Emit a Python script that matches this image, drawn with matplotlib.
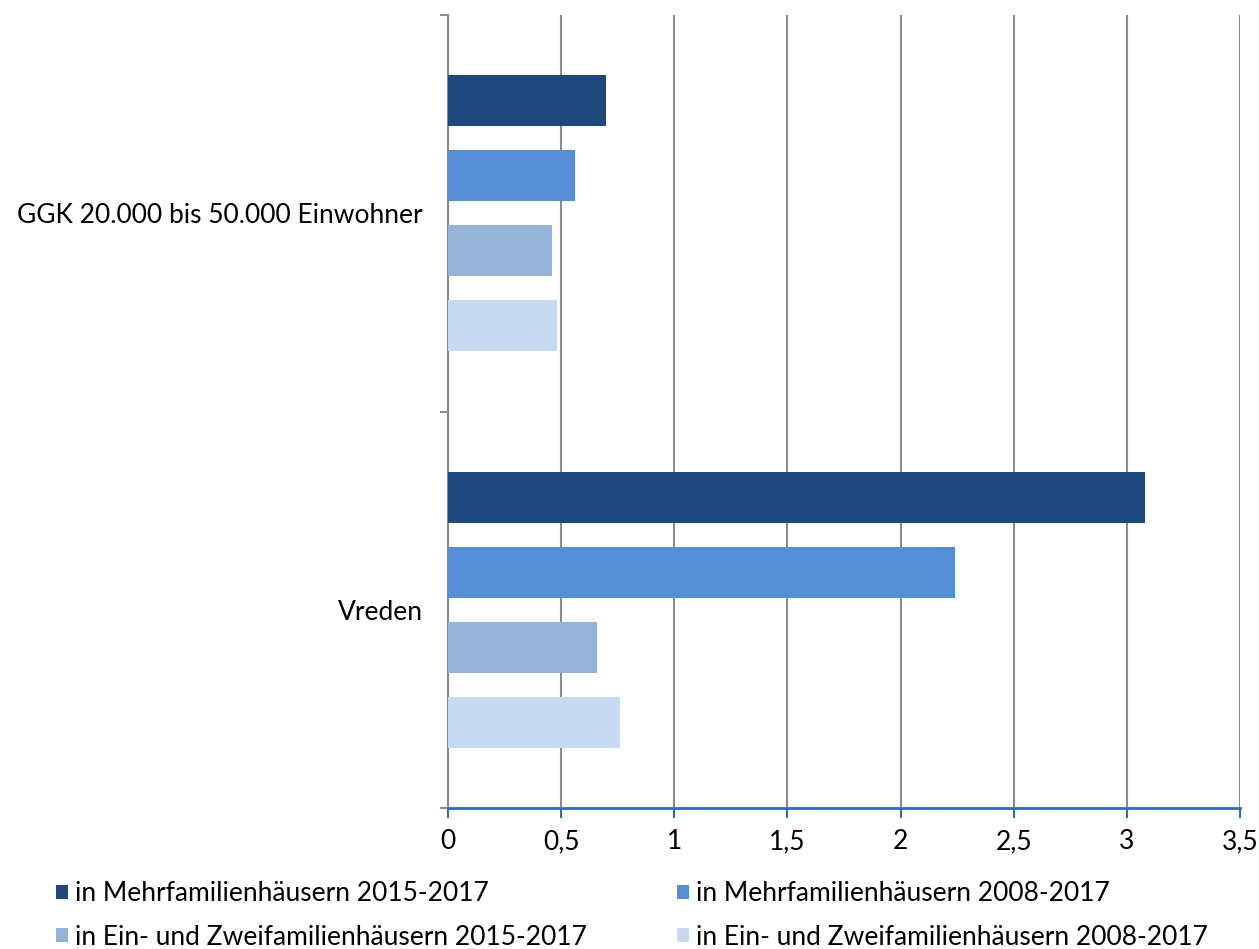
import matplotlib
matplotlib.use("Agg")
import matplotlib.pyplot as plt
from matplotlib.patches import Patch
from matplotlib.ticker import FixedLocator

plt.rcParams['font.family'] = ['Lato', 'DejaVu Sans']

categories = ["Vreden", "GGK 20.000 bis 50.000 Einwohner"]
series_names = [
    "in Mehrfamilienhäusern 2015-2017",
    "in Mehrfamilienhäusern 2008-2017",
    "in Ein- und Zweifamilienhäusern 2015-2017",
    "in Ein- und Zweifamilienhäusern 2008-2017",
]
# values per series, ordered as categories
mfh_2015 = [3.08, 0.70]
mfh_2008 = [2.24, 0.56]
ezfh_2015 = [0.66, 0.46]
ezfh_2008 = [0.76, 0.48]
series_values = [mfh_2015, mfh_2008, ezfh_2015, ezfh_2008]
colors = ["#1F497D", "#558ED5", "#95B3D7", "#C6D9F1"]
x_ticks = [0, 0.5, 1, 1.5, 2, 2.5, 3, 3.5]
x_ticklabels = ["0", "0,5", "1", "1,5", "2", "2,5", "3", "3,5"]

fig = plt.figure(figsize=(12.59, 9.49), dpi=100)
ax = fig.add_axes([448/1259, 141/949, (1240-448)/1259, (808-15)/949])

pitch = 0.189
h = 0.129
for i, (vals, col) in enumerate(zip(series_values, colors)):
    off = (1.5 - i) * pitch
    ax.barh([c + off for c in range(len(categories))], vals, height=h,
            color=col, zorder=3)

ax.set_xlim(0, 3.5)
ax.set_ylim(-0.5, 1.5)
ax.set_xticks(x_ticks)
ax.set_xticklabels(x_ticklabels, fontsize=19)
ax.set_yticks(range(len(categories)))
ax.set_yticklabels(categories, fontsize=19)
ax.tick_params(axis='y', which='major', length=0, pad=18)
ax.yaxis.set_minor_locator(FixedLocator([-0.5, 0.5, 1.5]))
ax.tick_params(axis='y', which='minor', length=6, width=1.5, color='#8c8c8c', direction='out')
ax.tick_params(axis='x', length=7, width=1.5, color='#2E6DB4', direction='out', pad=8)

ax.grid(axis='x', color='#8c8c8c', linewidth=1.5, zorder=0)
for s in ['top', 'right']:
    ax.spines[s].set_visible(False)
ax.spines['left'].set_color('#8c8c8c')
ax.spines['left'].set_linewidth(1.5)
ax.spines['bottom'].set_color('#2E6DB4')
ax.spines['bottom'].set_linewidth(2)
ax.spines['bottom'].set_zorder(4)

handles = [Patch(facecolor=c, edgecolor='none', label=n) for c, n in zip(colors, series_names)]
order = [0, 2, 1, 3]
fig.legend(handles=[handles[k] for k in order], ncol=2, loc='upper left',
           bbox_to_anchor=(35/1259, 1 - 860/949),
           frameon=False, fontsize=19, handlelength=0.45, handleheight=0.45,
           handletextpad=0.25, columnspacing=3.45, labelspacing=0.7,
           borderpad=0.3)

fig.savefig("out.png", dpi=100)
